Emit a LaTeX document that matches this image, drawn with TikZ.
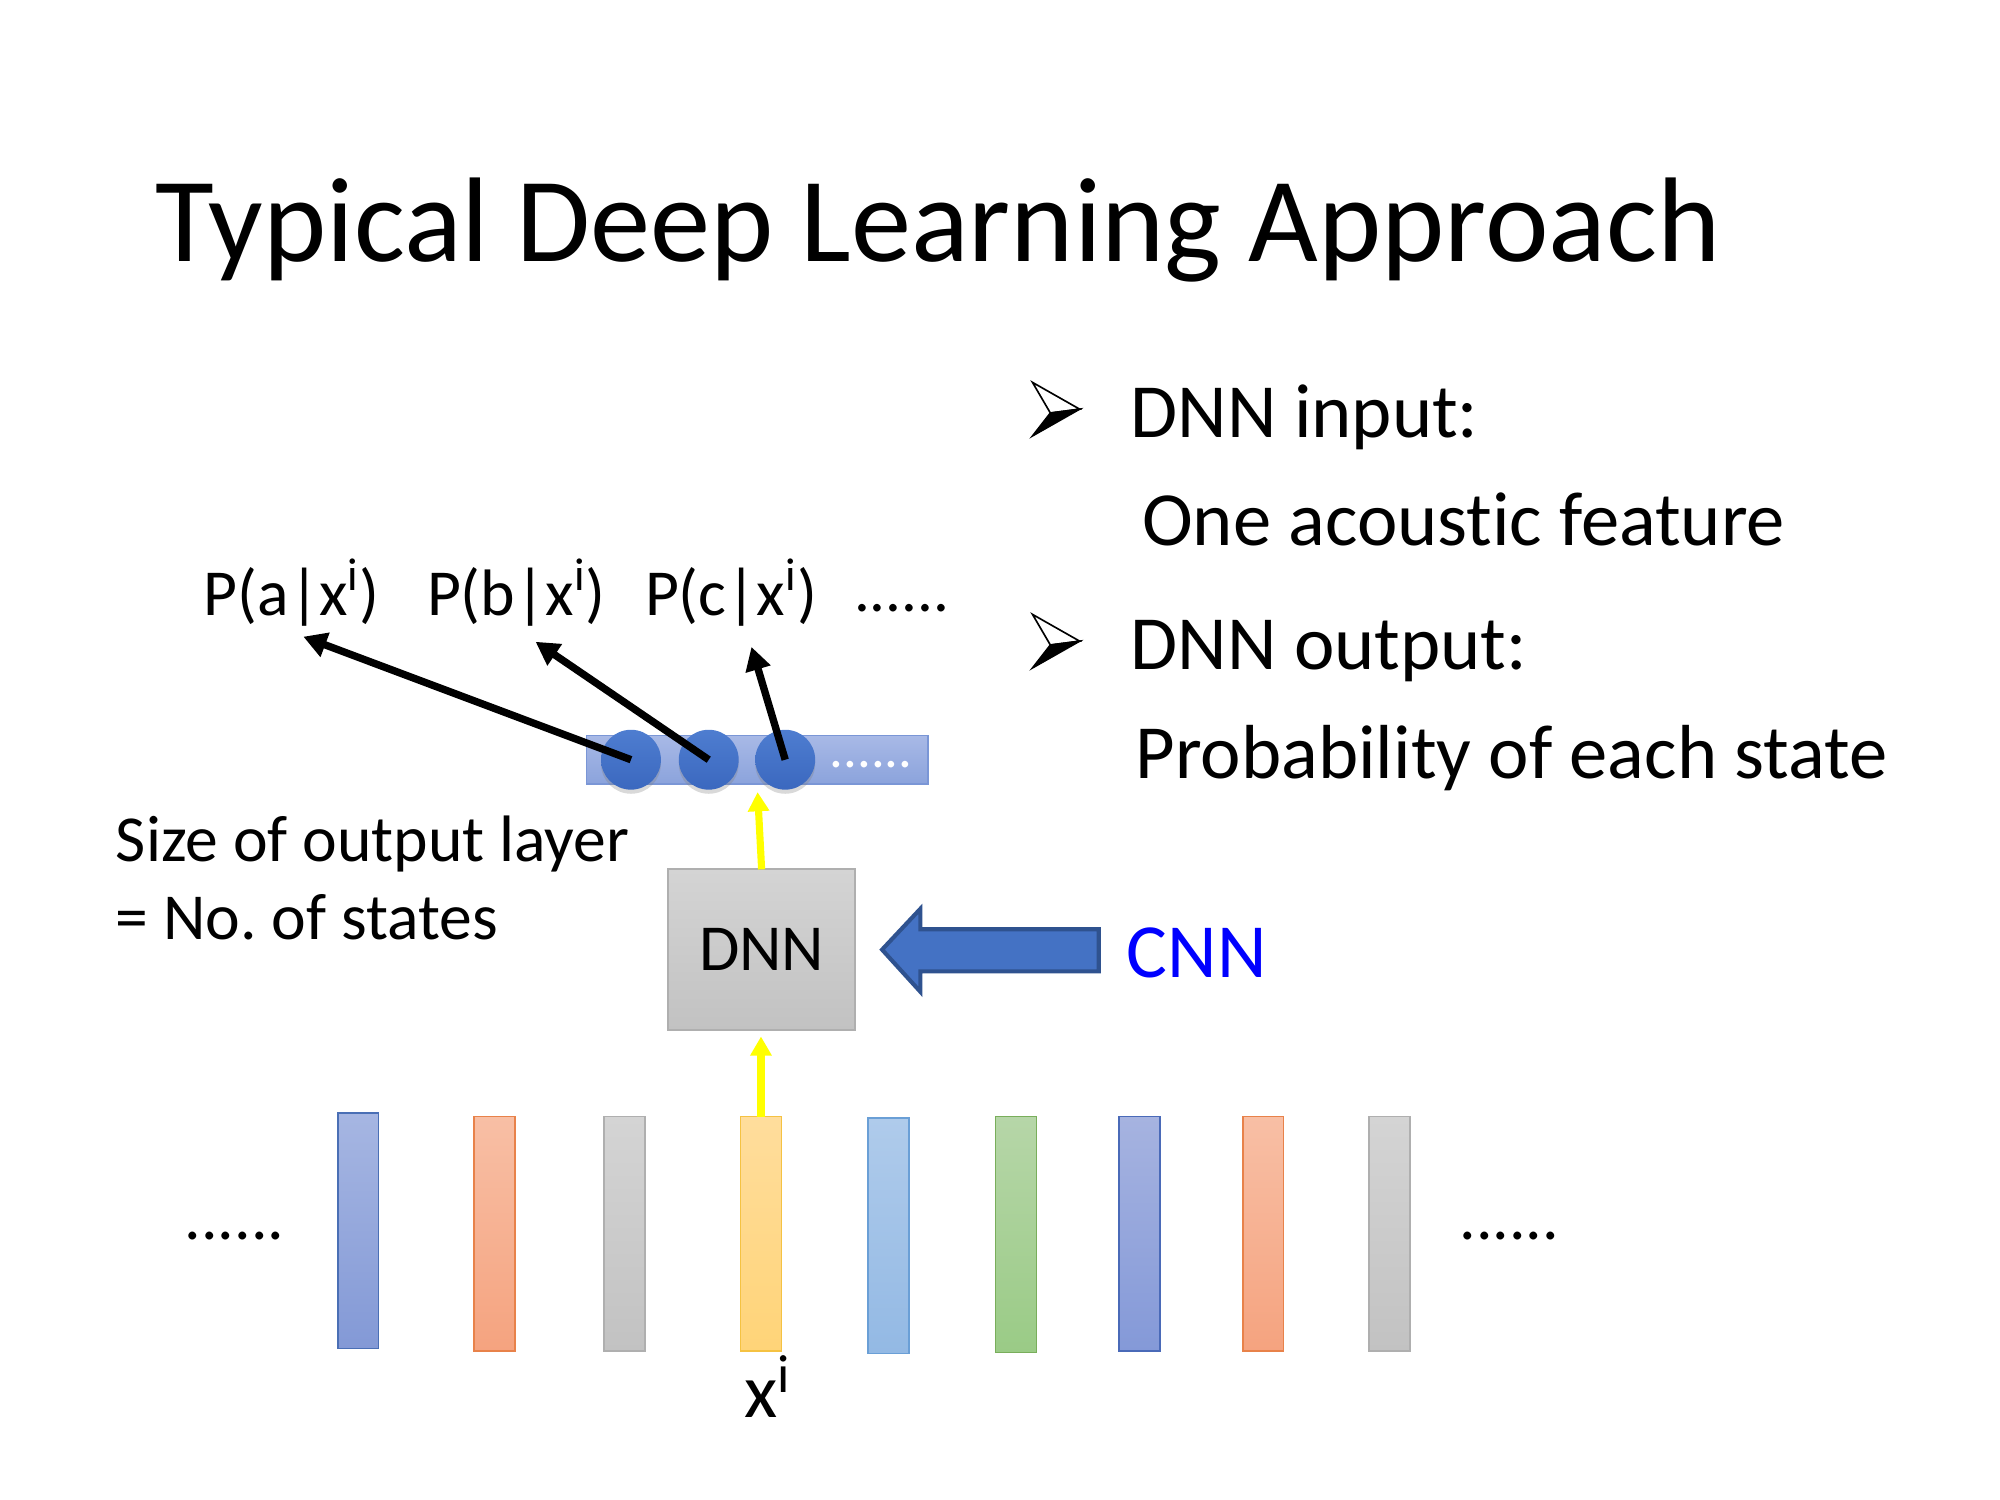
\documentclass[tikz,border=0pt]{standalone}
\usepackage{fontspec}
\setmainfont{Carlito}[Ligatures=NoCommon]
\usepackage{xcolor}
\usetikzlibrary{positioning,calc}
\usetikzlibrary{arrows.meta,shadows}
\frenchspacing

\definecolor{bluetop}{HTML}{A6B6E2}
\definecolor{bluebot}{HTML}{8399D6}
\definecolor{blueline}{HTML}{4A6FB5}
\definecolor{oratop}{HTML}{F8BFA5}
\definecolor{orabot}{HTML}{F5A37F}
\definecolor{oraline}{HTML}{E8824A}
\definecolor{graytop}{HTML}{D4D4D4}
\definecolor{graybot}{HTML}{C2C2C2}
\definecolor{grayline}{HTML}{AFAFAF}
\definecolor{yeltop}{HTML}{FFDD9C}
\definecolor{yelbot}{HTML}{FFD478}
\definecolor{yelline}{HTML}{F5C242}
\definecolor{skytop}{HTML}{AFCBEB}
\definecolor{skybot}{HTML}{93B9E4}
\definecolor{skyline}{HTML}{6A9FD6}
\definecolor{grntop}{HTML}{B6D6A8}
\definecolor{grnbot}{HTML}{9ACB86}
\definecolor{grnline}{HTML}{79AE5B}
\definecolor{indtop}{HTML}{A6B3E0}
\definecolor{indbot}{HTML}{8499D8}
\definecolor{indline}{HTML}{4A6AB8}
\definecolor{layertop}{HTML}{A8B9E6}
\definecolor{layerbot}{HTML}{8BA3DC}
\definecolor{layerline}{HTML}{7A96D6}
\definecolor{unittop}{HTML}{4E7DD0}
\definecolor{unitbot}{HTML}{3B68BF}
\definecolor{officeblue}{HTML}{4472C4}
\definecolor{officeline}{HTML}{2F528F}
\definecolor{cnnblue}{HTML}{0000FF}
\definecolor{feedyellow}{HTML}{FFFF00}

\newcommand{\pxu}{0.4657pt}

\tikzset{
  every node/.style={inner sep=0pt, outer sep=0pt},
  slidetext/.style={anchor=base west, font=\fontsize{#1}{#1}\selectfont},
  framebar/.style={anchor=north west, line width=0.6pt, minimum width={32*\pxu}},
  dnnbox/.style={draw=grayline, line width=0.8pt, top color=graytop, bottom color=graybot,
    minimum width={147*\pxu}, minimum height={126*\pxu}, font=\fontsize{24}{24}\selectfont},
  outlayer/.style={draw=layerline, line width=0.6pt, top color=layertop, bottom color=layerbot,
    minimum width={268*\pxu}, minimum height={38*\pxu}},
  outunit/.style={circle, minimum size={47*\pxu}, top color=unittop, bottom color=unitbot,
    drop shadow={opacity=0.3, shadow xshift=0pt, shadow yshift=-1.5pt}},
  probarrow/.style={line width=2.7pt, -{Triangle[width=9pt,length=8.5pt]}},
  feedarrow/.style={draw=feedyellow, line width=2.6pt, -{Triangle[width=7.5pt,length=7pt]}},
  cnnarrow/.style={fill=officeblue, draw=officeline, line width=1.5pt, line join=miter},
  bulletarrow/.pic={
    \filldraw[fill=white, draw=black, line width=0.6pt] (0,-21) -- (37,0) -- (14,3) -- cycle;
    \filldraw[fill=black, draw=black, line width=0.6pt] (14,3) -- (37,0) -- (0,21) -- cycle;
  }
}

\begin{document}
\begin{tikzpicture}[x=0.016366cm, y=-0.016366cm]
\useasboundingbox (0,0) rectangle (1569,1176.75);

\node[slidetext=44] (title) at (122,205) {Typical Deep Learning Approach};

% bullets
\pic at (810,321) {bulletarrow};
\pic at (810,503) {bulletarrow};
\node[slidetext=28] (inhead) at (887,343) {DNN input:};
\node[slidetext=28] (intext) at (896,428) {One acoustic feature};
\node[slidetext=28] (outhead) at (887,525) {DNN output:};
\node[slidetext=28] (outtext) at (891,611) {Probability of each state};

% input frames
\foreach \n/\xl/\yt/\yb/\ctop/\cbot/\cline in {
    1/265/873/1058/bluetop/bluebot/blueline,
    2/372/876/1060/oratop/orabot/oraline,
    3/474/876/1060/graytop/graybot/grayline,
    4/581/876/1060/yeltop/yelbot/yelline,
    5/681/877/1062/skytop/skybot/skyline,
    6/781/876/1061/grntop/grnbot/grnline,
    7/878/876/1060/indtop/indbot/indline,
    8/975/876/1060/oratop/orabot/oraline,
    9/1074/876/1060/graytop/graybot/grayline}
  \node[framebar, top color=\ctop, bottom color=\cbot, draw=\cline,
        minimum height={(\yb-\yt)*\pxu}] (bar\n) at (\xl,\yt) {};

\node[slidetext=24] (leftdots) at (145,972) {......};
\node[slidetext=24] (rightdots) at (1145,972) {......};
\node[slidetext=28] (xin) at (584,1112) {x\textsuperscript{i}};

% network
\node[dnnbox] (dnn) at (597.5,745) {DNN};
\node[outlayer] (layer) at (594,596) {};
\node[outunit] (o1) at (495,596) {};
\node[outunit] (o2) at (556,596) {};
\node[outunit] (o3) at (616,596) {};
\node[slidetext=20, text=white] (layerdots) at (651,602) {......};

\node[slidetext=24] (pa) at (160,483) {P(a|x\textsuperscript{i})};
\node[slidetext=24] (pb) at (335,483) {P(b|x\textsuperscript{i})};
\node[slidetext=24] (pc) at (506,483) {P(c|x\textsuperscript{i})};
\node[slidetext=23] (pdots) at (670,480) {......};

\draw[probarrow] (o1.center) -- ($(pa.south)+(9,8)$);
\draw[probarrow] (o2.center) -- ($(pb.south)+(15,12)$);
\draw[probarrow] (o3.center) -- ($(pc.south)+(16,16)$);

\draw[feedarrow, shorten >=3pt] (dnn.north) -- (layer.south);
\draw[feedarrow, shorten >=2.4pt] (bar4.north) -- (bar4.north |- dnn.south);

\node[slidetext=24] (sizeA) at (91,676) {Size of output layer};
\node[slidetext=24] (sizeB) at (91,737) {= No. of states};

% CNN replaces the DNN
\node[slidetext=28, text=cnnblue] (cnn) at (884,767) {CNN};
\draw[cnnarrow] ($(dnn.east)+(21,0)$) -- ++(30,-32) -- ++(0,16) -- ++(140,0)
  -- ++(0,33) -- ++(-140,0) -- ++(0,16) -- cycle;

\end{tikzpicture}
\end{document}
